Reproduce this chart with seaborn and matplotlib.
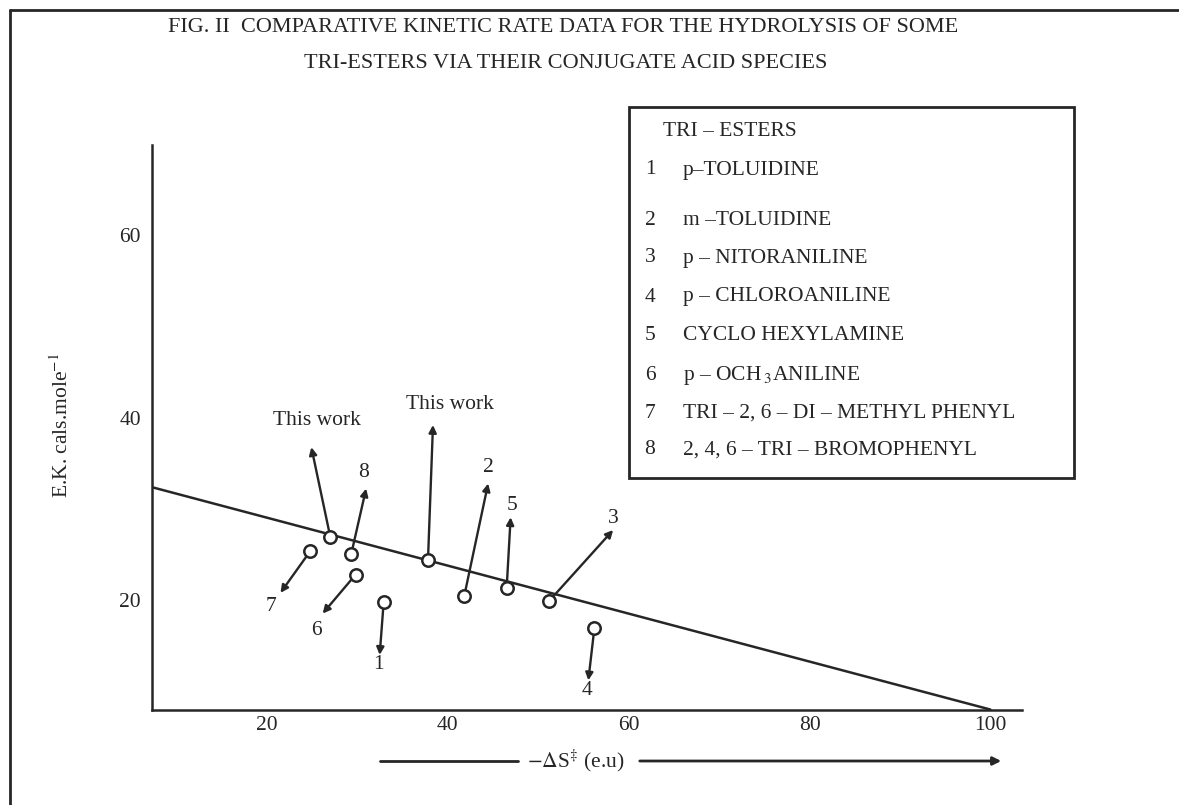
import numpy as np
import pandas as pd
import matplotlib
matplotlib.use("Agg")
import matplotlib.pyplot as plt
import matplotlib.transforms as mtransforms
from matplotlib.lines import Line2D
from matplotlib.patches import Rectangle, FancyArrowPatch
import seaborn as sns

# ---------------- data ----------------
point_labels = ["1", "2", "3", "4", "5", "6", "7", "8", "This work", "This work"]
delta_s = [32.9, 41.8, 51.2, 56.2, 46.5, 29.8, 24.8, 29.3, 27.0, 37.8]       # -dS (e.u)
energy = [19.8, 20.4, 19.9, 16.9, 21.3, 22.8, 25.4, 25.0, 26.9, 24.4]        # E.K. cals/mole
fit_x = [7.2, 100.0]
fit_y = [32.4, 8.0]
x_ticks = [20, 40, 60, 80, 100]
y_ticks = [20, 40, 60]
legend_title = "TRI – ESTERS"
legend_nums = ["1", "2", "3", "4", "5", "6", "7", "8"]
legend_names = ["p–TOLUIDINE", "m –TOLUIDINE", "p – NITORANILINE", "p – CHLOROANILINE",
                "CYCLO HEXYLAMINE", r"p – OCH$\,_3$ANILINE", "TRI – 2, 6 – DI – METHYL PHENYL",
                "2, 4, 6 – TRI – BROMOPHENYL"]
title1 = "FIG. II  COMPARATIVE KINETIC RATE DATA FOR THE HYDROLYSIS OF SOME"
title2 = "TRI-ESTERS VIA THEIR CONJUGATE ACID SPECIES"

# annotation layout: arrow tip and label offsets from each point, in pixels (screen: +y down)
arrow_dx = [-4, 24, 64, -6, 4, -33, -30, 15, -19, 5]
arrow_dy = [53, -113, -71, 52, -71, 39, 42, -66, -90, -135]
label_dx = [-5, 24, 64, -7, 5, -39, -39, 12, -13, 22]
label_dy = [63, -129, -83, 62, -83, 56, 56, -82, -117, -155]

# ---------------- style ----------------
W, H = 1179, 805
sns.set_theme(style="white")
plt.rcParams["font.family"] = ["Liberation Serif", "DejaVu Serif"]
plt.rcParams["mathtext.fontset"] = "stix"
INK = "#262626"
FS = 15.5
FS_TITLE = 16

def fx(px):
    return px / W

def fy(py):
    return 1 - py / H

fig = plt.figure(figsize=(W / 100, H / 100), dpi=100)
ax = fig.add_axes([fx(151.5), fy(710), (1022 - 151.5) / W, (710 - 145) / H])
ax.set_facecolor("white")

df = pd.DataFrame({"x": delta_s, "y": energy, "label": point_labels})
fit = pd.DataFrame({"x": fit_x, "y": fit_y})

sns.lineplot(data=fit, x="x", y="y", ax=ax, color=INK, lw=1.8, zorder=2)

# arrows from each point
for i, row in df.iterrows():
    tip_tr = mtransforms.offset_copy(ax.transData, fig=fig, x=arrow_dx[i], y=-arrow_dy[i], units="dots")
    ax.annotate("", xy=(row.x, row.y), xycoords=tip_tr, xytext=(row.x, row.y), textcoords="data",
                arrowprops=dict(arrowstyle="-|>", color=INK, lw=1.7, mutation_scale=11,
                                shrinkA=5, shrinkB=0), zorder=3)
    ax.annotate(row.label, xy=(row.x, row.y), xytext=(label_dx[i], -label_dy[i]),
                textcoords="offset pixels", ha="center", va="center", fontsize=FS, color=INK)

sns.scatterplot(data=df, x="x", y="y", ax=ax, s=80, marker="o", facecolor="white",
                edgecolor=INK, linewidth=1.8, zorder=4, legend=False)

ax.set_xlim(7.22, 103.5)
ax.set_ylim(7.95, 69.9)
ax.set_xticks(x_ticks)
ax.set_yticks(y_ticks)
ax.set_xticklabels([str(t) for t in x_ticks])
ax.set_yticklabels([str(t) for t in y_ticks])
for s in ["top", "right"]:
    ax.spines[s].set_visible(False)
for s in ["left", "bottom"]:
    ax.spines[s].set_linewidth(1.8)
    ax.spines[s].set_color(INK)
ax.tick_params(axis="x", direction="in", length=8, width=1.5, colors=INK, labelsize=FS, pad=4)
ax.tick_params(axis="y", direction="inout", length=9, width=1.5, colors=INK, labelsize=FS, pad=3)
ax.set_xlabel("")
ax.set_ylabel(r"E.K. cals.mole$^{-1}$", fontsize=FS, color=INK)
ax.yaxis.set_label_coords((73 - 151.5) / 870.5, (710 - 425) / 565)

# x-axis caption with arrow
fig.text(fx(576), fy(761), r"$-\Delta$S$^{\ddagger}$ (e.u)", ha="center", va="center",
         fontsize=FS, color=INK)
fig.add_artist(Line2D([fx(380), fx(518)], [fy(761), fy(761)], color=INK, lw=2))
fig.add_artist(FancyArrowPatch((fx(637), fy(761)), (fx(1004), fy(761)), transform=fig.transFigure,
                               arrowstyle="-|>", mutation_scale=12, lw=2, color=INK))

# titles
fig.text(fx(563), fy(27), title1, ha="center", va="center", fontsize=FS_TITLE, color=INK)
fig.text(fx(566), fy(63), title2, ha="center", va="center", fontsize=FS_TITLE, color=INK)

# outer frame
fig.add_artist(Line2D([fx(10), fx(10)], [fy(10), 0], color=INK, lw=2))
fig.add_artist(Line2D([fx(10), 1], [fy(10), fy(10)], color=INK, lw=2))

# legend box
fig.add_artist(Rectangle((fx(629), fy(478)), (1074 - 629) / W, (478 - 107) / H,
                         transform=fig.transFigure, fill=False, ec=INK, lw=2))
fig.text(fx(663), fy(131), legend_title, ha="left", va="center", fontsize=FS, color=INK)
legend_y = [170, 220, 258, 297, 335, 375, 413, 450]
for n, name, yy in zip(legend_nums, legend_names, legend_y):
    fig.text(fx(650), fy(yy), n, ha="center", va="center", fontsize=FS, color=INK)
    fig.text(fx(683), fy(yy), name, ha="left", va="center", fontsize=FS, color=INK)

fig.savefig("out.png", dpi=100, facecolor="white")
